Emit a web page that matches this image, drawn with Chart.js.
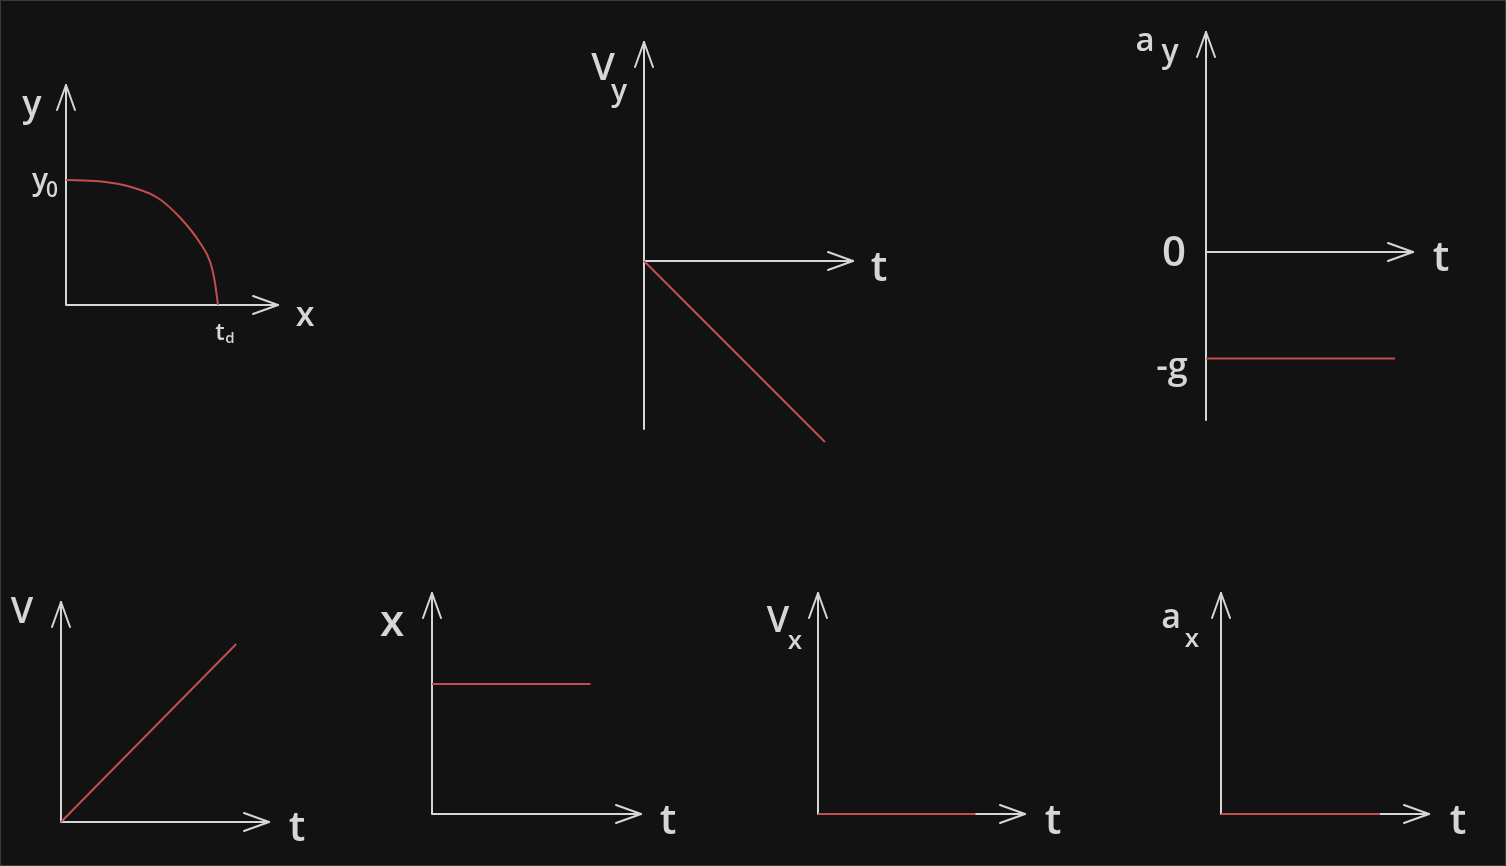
<!DOCTYPE html>
<html>
<head>
<meta charset="utf-8">
<script src="https://cdn.jsdelivr.net/npm/chart.js@4.4.1/dist/chart.umd.min.js"></script>
<style>
  html, body { margin: 0; padding: 0; background: #121212; }
  #board { position: relative; width: 1506px; height: 866px; overflow: hidden; background: #121212; }
  #board canvas { position: absolute; left: 0; top: 0; }
  #frame { position: absolute; left: 0; top: 0; width: 1506px; height: 866px; box-sizing: border-box;
           border: 1px solid #3a3a3a; pointer-events: none; }
</style>
</head>
<body>
<div id="board"><div id="frame"></div></div>
<script>
// values (unit = y0, g, end of the drawn segment)
const fallX = [0, 0.22, 0.44, 0.60, 0.75, 0.88, 0.95, 0.98, 1];
const fallY = [1, 0.99, 0.94, 0.86, 0.70, 0.50, 0.34, 0.18, 0];
const vyT = [0, 1];
const vyVal = [0, -1];
const ayT = [0, 1];
const ayVal = [-1, -1];
const vT = [0, 1];
const vVal = [0, 1];
const xT = [0, 1];
const xVal = [1, 1];
const vxT = [0, 1];
const vxVal = [0, 0];
const axT = [0, 1];
const axVal = [0, 0];

const W = 1506, H = 866;
const AXIS = "#d6d6d6";
const RED = "#c24f4d";
const FONT = "600 {s}px 'Open Sans', sans-serif";

// box = pixel edges of each little plot, labels = text drawn round it
const panels = [
  { xs: fallX, ys: fallY, smooth: true,
    box: { left: 66, right: 278, top: 85, bottom: 305 }, xMax: 1.395, yMin: 0, yMax: 1.76,
    labels: [["y", 32, 116, 36], ["y", 40, 190, 30], ["0", 52, 197, 21],
             ["t", 220, 340, 24], ["d", 230, 343, 15], ["x", 305, 326, 34]] },
  { xs: vyT, ys: vyVal,
    box: { left: 644, right: 853, top: 42, bottom: 429 }, xMax: 1.155, yMin: -0.928, yMax: 1.21,
    labels: [["V", 603, 80, 38], ["y", 619, 101, 30], ["t", 879, 281, 42]] },
  { xs: ayT, ys: ayVal,
    box: { left: 1206, right: 1413, top: 32, bottom: 420 }, xMax: 1.095, yMin: -1.577, yMax: 2.066,
    labels: [["a", 1145, 51, 33], ["y", 1170, 62, 32], ["0", 1174, 266, 42],
             ["t", 1441, 271, 42], ["-g", 1172, 378, 36]] },
  { xs: vT, ys: vVal,
    box: { left: 61, right: 269, top: 602, bottom: 822 }, xMax: 1.187, yMin: 0, yMax: 1.236,
    labels: [["V", 22, 623, 36], ["t", 297, 841, 42]] },
  { xs: xT, ys: xVal,
    box: { left: 432, right: 641, top: 593, bottom: 814 }, xMax: 1.319, yMin: 0, yMax: 1.70,
    labels: [["x", 392, 636, 44], ["t", 668, 834, 42]] },
  { xs: vxT, ys: vxVal,
    box: { left: 818, right: 1025, top: 593, bottom: 814 }, xMax: 1.314, yMin: 0, yMax: 1,
    labels: [["V", 778, 632, 36], ["x", 795, 649, 26], ["t", 1053, 834, 42]] },
  { xs: axT, ys: axVal,
    box: { left: 1221, right: 1429, top: 593, bottom: 814 }, xMax: 1.308, yMin: 0, yMax: 1,
    labels: [["a", 1171, 628, 34], ["x", 1192, 647, 26], ["t", 1458, 834, 42]] }
];

function arrowHead(ctx, tx, ty, dirX, dirY) {
  const len = 25, half = 9;
  const px = -dirY, py = dirX;
  ctx.beginPath();
  ctx.moveTo(tx - dirX * len + px * half, ty - dirY * len + py * half);
  ctx.lineTo(tx, ty);
  ctx.lineTo(tx - dirX * len - px * half, ty - dirY * len - py * half);
  ctx.stroke();
}

const sketchAxes = {
  id: "sketchAxes",
  beforeDatasetsDraw(chart) {
    const { ctx, scales: { x, y } } = chart;
    const ox = x.getPixelForValue(0), oy = y.getPixelForValue(0);
    const xEnd = x.getPixelForValue(x.max);
    const yTop = y.getPixelForValue(y.max), yBot = y.getPixelForValue(y.min);
    ctx.save();
    ctx.strokeStyle = AXIS;
    ctx.lineWidth = 2;
    ctx.lineCap = "round";
    ctx.lineJoin = "round";
    ctx.beginPath();
    ctx.moveTo(ox, oy);
    ctx.lineTo(xEnd, oy);
    ctx.moveTo(ox, yBot);
    ctx.lineTo(ox, yTop);
    ctx.stroke();
    arrowHead(ctx, xEnd, oy, 1, 0);
    arrowHead(ctx, ox, yTop, 0, -1);
    ctx.restore();
  },
  afterDraw(chart) {
    const ctx = chart.ctx;
    ctx.save();
    ctx.fillStyle = AXIS;
    ctx.textAlign = "center";
    ctx.textBaseline = "alphabetic";
    chart.options.plugins.sketchAxes.labels.forEach(([txt, cx, base, size]) => {
      ctx.font = FONT.replace("{s}", size);
      ctx.fillText(txt, cx, base);
    });
    ctx.restore();
  }
};

const board = document.getElementById("board");
panels.forEach(p => {
  const cv = document.createElement("canvas");
  cv.width = W;
  cv.height = H;
  board.insertBefore(cv, document.getElementById("frame"));
  new Chart(cv, {
    type: "line",
    data: {
      datasets: [{
        data: p.xs.map((v, i) => ({ x: v, y: p.ys[i] })),
        borderColor: RED,
        borderWidth: 2,
        pointRadius: 0,
        fill: false,
        clip: false,
        cubicInterpolationMode: p.smooth ? "monotone" : "default",
        tension: p.smooth ? 0.4 : 0
      }]
    },
    options: {
      responsive: false,
      animation: false,
      events: [],
      layout: { padding: { left: p.box.left, right: W - p.box.right, top: p.box.top, bottom: H - p.box.bottom } },
      plugins: {
        legend: { display: false },
        tooltip: { enabled: false },
        sketchAxes: { labels: p.labels }
      },
      scales: {
        x: { type: "linear", display: false, min: 0, max: p.xMax },
        y: { type: "linear", display: false, min: p.yMin, max: p.yMax }
      }
    },
    plugins: [sketchAxes]
  });
});
</script>
</body>
</html>
